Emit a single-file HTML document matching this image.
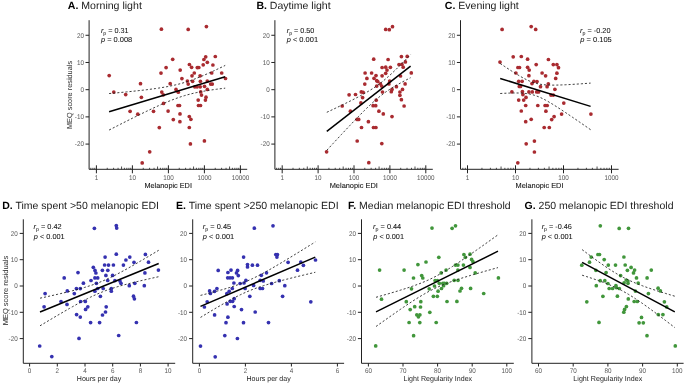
<!DOCTYPE html><html><head><meta charset="utf-8"><style>html,body{margin:0;padding:0;background:#fff;overflow:hidden}svg{display:block;will-change:transform;text-rendering:geometricPrecision}</style></head><body>
<svg width="685" height="383" viewBox="0 0 685 383" font-family='"Liberation Sans", sans-serif'>
<rect width="685" height="383" fill="#fff"/>
<path d="M89.10 20.20V169.30H247.20" fill="none" stroke="#222" stroke-width="1.0"/>
<line x1="85.50" y1="35.28" x2="89.10" y2="35.28" stroke="#222" stroke-width="1.0"/>
<text x="83.90" y="37.68" text-anchor="end" font-size="6.8" fill="#5a5a5a" textLength="7.01" lengthAdjust="spacingAndGlyphs">20</text>
<line x1="85.50" y1="62.48" x2="89.10" y2="62.48" stroke="#222" stroke-width="1.0"/>
<text x="83.90" y="64.88" text-anchor="end" font-size="6.8" fill="#5a5a5a" textLength="7.01" lengthAdjust="spacingAndGlyphs">10</text>
<line x1="85.50" y1="89.68" x2="89.10" y2="89.68" stroke="#222" stroke-width="1.0"/>
<text x="83.90" y="92.08" text-anchor="end" font-size="6.8" fill="#5a5a5a" textLength="3.50" lengthAdjust="spacingAndGlyphs">0</text>
<line x1="85.50" y1="116.88" x2="89.10" y2="116.88" stroke="#222" stroke-width="1.0"/>
<text x="83.90" y="119.28" text-anchor="end" font-size="6.8" fill="#5a5a5a" textLength="9.10" lengthAdjust="spacingAndGlyphs">-10</text>
<line x1="85.50" y1="144.08" x2="89.10" y2="144.08" stroke="#222" stroke-width="1.0"/>
<text x="83.90" y="146.48" text-anchor="end" font-size="6.8" fill="#5a5a5a" textLength="9.10" lengthAdjust="spacingAndGlyphs">-20</text>
<line x1="90.82" y1="167.80" x2="90.82" y2="169.30" stroke="#222" stroke-width="0.8"/>
<line x1="92.91" y1="167.80" x2="92.91" y2="169.30" stroke="#222" stroke-width="0.8"/>
<line x1="94.75" y1="167.80" x2="94.75" y2="169.30" stroke="#222" stroke-width="0.8"/>
<line x1="96.40" y1="165.30" x2="96.40" y2="173.30" stroke="#222" stroke-width="1.0"/>
<line x1="107.24" y1="167.80" x2="107.24" y2="169.30" stroke="#222" stroke-width="0.8"/>
<line x1="113.58" y1="167.80" x2="113.58" y2="169.30" stroke="#222" stroke-width="0.8"/>
<line x1="118.07" y1="167.80" x2="118.07" y2="169.30" stroke="#222" stroke-width="0.8"/>
<line x1="121.56" y1="166.50" x2="121.56" y2="169.30" stroke="#222" stroke-width="0.8"/>
<line x1="124.41" y1="167.80" x2="124.41" y2="169.30" stroke="#222" stroke-width="0.8"/>
<line x1="126.82" y1="167.80" x2="126.82" y2="169.30" stroke="#222" stroke-width="0.8"/>
<line x1="128.91" y1="167.80" x2="128.91" y2="169.30" stroke="#222" stroke-width="0.8"/>
<line x1="130.75" y1="167.80" x2="130.75" y2="169.30" stroke="#222" stroke-width="0.8"/>
<line x1="132.40" y1="165.30" x2="132.40" y2="173.30" stroke="#222" stroke-width="1.0"/>
<line x1="143.24" y1="167.80" x2="143.24" y2="169.30" stroke="#222" stroke-width="0.8"/>
<line x1="149.58" y1="167.80" x2="149.58" y2="169.30" stroke="#222" stroke-width="0.8"/>
<line x1="154.07" y1="167.80" x2="154.07" y2="169.30" stroke="#222" stroke-width="0.8"/>
<line x1="157.56" y1="166.50" x2="157.56" y2="169.30" stroke="#222" stroke-width="0.8"/>
<line x1="160.41" y1="167.80" x2="160.41" y2="169.30" stroke="#222" stroke-width="0.8"/>
<line x1="162.82" y1="167.80" x2="162.82" y2="169.30" stroke="#222" stroke-width="0.8"/>
<line x1="164.91" y1="167.80" x2="164.91" y2="169.30" stroke="#222" stroke-width="0.8"/>
<line x1="166.75" y1="167.80" x2="166.75" y2="169.30" stroke="#222" stroke-width="0.8"/>
<line x1="168.40" y1="165.30" x2="168.40" y2="173.30" stroke="#222" stroke-width="1.0"/>
<line x1="179.24" y1="167.80" x2="179.24" y2="169.30" stroke="#222" stroke-width="0.8"/>
<line x1="185.58" y1="167.80" x2="185.58" y2="169.30" stroke="#222" stroke-width="0.8"/>
<line x1="190.07" y1="167.80" x2="190.07" y2="169.30" stroke="#222" stroke-width="0.8"/>
<line x1="193.56" y1="166.50" x2="193.56" y2="169.30" stroke="#222" stroke-width="0.8"/>
<line x1="196.41" y1="167.80" x2="196.41" y2="169.30" stroke="#222" stroke-width="0.8"/>
<line x1="198.82" y1="167.80" x2="198.82" y2="169.30" stroke="#222" stroke-width="0.8"/>
<line x1="200.91" y1="167.80" x2="200.91" y2="169.30" stroke="#222" stroke-width="0.8"/>
<line x1="202.75" y1="167.80" x2="202.75" y2="169.30" stroke="#222" stroke-width="0.8"/>
<line x1="204.40" y1="165.30" x2="204.40" y2="173.30" stroke="#222" stroke-width="1.0"/>
<line x1="215.24" y1="167.80" x2="215.24" y2="169.30" stroke="#222" stroke-width="0.8"/>
<line x1="221.58" y1="167.80" x2="221.58" y2="169.30" stroke="#222" stroke-width="0.8"/>
<line x1="226.07" y1="167.80" x2="226.07" y2="169.30" stroke="#222" stroke-width="0.8"/>
<line x1="229.56" y1="166.50" x2="229.56" y2="169.30" stroke="#222" stroke-width="0.8"/>
<line x1="232.41" y1="167.80" x2="232.41" y2="169.30" stroke="#222" stroke-width="0.8"/>
<line x1="234.82" y1="167.80" x2="234.82" y2="169.30" stroke="#222" stroke-width="0.8"/>
<line x1="236.91" y1="167.80" x2="236.91" y2="169.30" stroke="#222" stroke-width="0.8"/>
<line x1="238.75" y1="167.80" x2="238.75" y2="169.30" stroke="#222" stroke-width="0.8"/>
<line x1="240.40" y1="165.30" x2="240.40" y2="173.30" stroke="#222" stroke-width="1.0"/>
<text x="96.40" y="179.60" text-anchor="middle" font-size="6.8" fill="#5a5a5a" textLength="3.50" lengthAdjust="spacingAndGlyphs">1</text>
<text x="132.40" y="179.60" text-anchor="middle" font-size="6.8" fill="#5a5a5a" textLength="7.01" lengthAdjust="spacingAndGlyphs">10</text>
<text x="168.40" y="179.60" text-anchor="middle" font-size="6.8" fill="#5a5a5a" textLength="10.51" lengthAdjust="spacingAndGlyphs">100</text>
<text x="204.40" y="179.60" text-anchor="middle" font-size="6.8" fill="#5a5a5a" textLength="14.01" lengthAdjust="spacingAndGlyphs">1000</text>
<text x="240.40" y="179.60" text-anchor="middle" font-size="6.8" fill="#5a5a5a" textLength="17.51" lengthAdjust="spacingAndGlyphs">10000</text>
<path d="M274.90 20.20V169.30H432.80" fill="none" stroke="#222" stroke-width="1.0"/>
<line x1="271.30" y1="35.28" x2="274.90" y2="35.28" stroke="#222" stroke-width="1.0"/>
<text x="269.70" y="37.68" text-anchor="end" font-size="6.8" fill="#5a5a5a" textLength="7.01" lengthAdjust="spacingAndGlyphs">20</text>
<line x1="271.30" y1="62.48" x2="274.90" y2="62.48" stroke="#222" stroke-width="1.0"/>
<text x="269.70" y="64.88" text-anchor="end" font-size="6.8" fill="#5a5a5a" textLength="7.01" lengthAdjust="spacingAndGlyphs">10</text>
<line x1="271.30" y1="89.68" x2="274.90" y2="89.68" stroke="#222" stroke-width="1.0"/>
<text x="269.70" y="92.08" text-anchor="end" font-size="6.8" fill="#5a5a5a" textLength="3.50" lengthAdjust="spacingAndGlyphs">0</text>
<line x1="271.30" y1="116.88" x2="274.90" y2="116.88" stroke="#222" stroke-width="1.0"/>
<text x="269.70" y="119.28" text-anchor="end" font-size="6.8" fill="#5a5a5a" textLength="9.10" lengthAdjust="spacingAndGlyphs">-10</text>
<line x1="271.30" y1="144.08" x2="274.90" y2="144.08" stroke="#222" stroke-width="1.0"/>
<text x="269.70" y="146.48" text-anchor="end" font-size="6.8" fill="#5a5a5a" textLength="9.10" lengthAdjust="spacingAndGlyphs">-20</text>
<line x1="276.64" y1="167.80" x2="276.64" y2="169.30" stroke="#222" stroke-width="0.8"/>
<line x1="278.72" y1="167.80" x2="278.72" y2="169.30" stroke="#222" stroke-width="0.8"/>
<line x1="280.56" y1="167.80" x2="280.56" y2="169.30" stroke="#222" stroke-width="0.8"/>
<line x1="282.20" y1="165.30" x2="282.20" y2="173.30" stroke="#222" stroke-width="1.0"/>
<line x1="293.01" y1="167.80" x2="293.01" y2="169.30" stroke="#222" stroke-width="0.8"/>
<line x1="299.33" y1="167.80" x2="299.33" y2="169.30" stroke="#222" stroke-width="0.8"/>
<line x1="303.81" y1="167.80" x2="303.81" y2="169.30" stroke="#222" stroke-width="0.8"/>
<line x1="307.29" y1="166.50" x2="307.29" y2="169.30" stroke="#222" stroke-width="0.8"/>
<line x1="310.14" y1="167.80" x2="310.14" y2="169.30" stroke="#222" stroke-width="0.8"/>
<line x1="312.54" y1="167.80" x2="312.54" y2="169.30" stroke="#222" stroke-width="0.8"/>
<line x1="314.62" y1="167.80" x2="314.62" y2="169.30" stroke="#222" stroke-width="0.8"/>
<line x1="316.46" y1="167.80" x2="316.46" y2="169.30" stroke="#222" stroke-width="0.8"/>
<line x1="318.10" y1="165.30" x2="318.10" y2="173.30" stroke="#222" stroke-width="1.0"/>
<line x1="328.91" y1="167.80" x2="328.91" y2="169.30" stroke="#222" stroke-width="0.8"/>
<line x1="335.23" y1="167.80" x2="335.23" y2="169.30" stroke="#222" stroke-width="0.8"/>
<line x1="339.71" y1="167.80" x2="339.71" y2="169.30" stroke="#222" stroke-width="0.8"/>
<line x1="343.19" y1="166.50" x2="343.19" y2="169.30" stroke="#222" stroke-width="0.8"/>
<line x1="346.04" y1="167.80" x2="346.04" y2="169.30" stroke="#222" stroke-width="0.8"/>
<line x1="348.44" y1="167.80" x2="348.44" y2="169.30" stroke="#222" stroke-width="0.8"/>
<line x1="350.52" y1="167.80" x2="350.52" y2="169.30" stroke="#222" stroke-width="0.8"/>
<line x1="352.36" y1="167.80" x2="352.36" y2="169.30" stroke="#222" stroke-width="0.8"/>
<line x1="354.00" y1="165.30" x2="354.00" y2="173.30" stroke="#222" stroke-width="1.0"/>
<line x1="364.81" y1="167.80" x2="364.81" y2="169.30" stroke="#222" stroke-width="0.8"/>
<line x1="371.13" y1="167.80" x2="371.13" y2="169.30" stroke="#222" stroke-width="0.8"/>
<line x1="375.61" y1="167.80" x2="375.61" y2="169.30" stroke="#222" stroke-width="0.8"/>
<line x1="379.09" y1="166.50" x2="379.09" y2="169.30" stroke="#222" stroke-width="0.8"/>
<line x1="381.94" y1="167.80" x2="381.94" y2="169.30" stroke="#222" stroke-width="0.8"/>
<line x1="384.34" y1="167.80" x2="384.34" y2="169.30" stroke="#222" stroke-width="0.8"/>
<line x1="386.42" y1="167.80" x2="386.42" y2="169.30" stroke="#222" stroke-width="0.8"/>
<line x1="388.26" y1="167.80" x2="388.26" y2="169.30" stroke="#222" stroke-width="0.8"/>
<line x1="389.90" y1="165.30" x2="389.90" y2="173.30" stroke="#222" stroke-width="1.0"/>
<line x1="400.71" y1="167.80" x2="400.71" y2="169.30" stroke="#222" stroke-width="0.8"/>
<line x1="407.03" y1="167.80" x2="407.03" y2="169.30" stroke="#222" stroke-width="0.8"/>
<line x1="411.51" y1="167.80" x2="411.51" y2="169.30" stroke="#222" stroke-width="0.8"/>
<line x1="414.99" y1="166.50" x2="414.99" y2="169.30" stroke="#222" stroke-width="0.8"/>
<line x1="417.84" y1="167.80" x2="417.84" y2="169.30" stroke="#222" stroke-width="0.8"/>
<line x1="420.24" y1="167.80" x2="420.24" y2="169.30" stroke="#222" stroke-width="0.8"/>
<line x1="422.32" y1="167.80" x2="422.32" y2="169.30" stroke="#222" stroke-width="0.8"/>
<line x1="424.16" y1="167.80" x2="424.16" y2="169.30" stroke="#222" stroke-width="0.8"/>
<line x1="425.80" y1="165.30" x2="425.80" y2="173.30" stroke="#222" stroke-width="1.0"/>
<text x="282.20" y="179.60" text-anchor="middle" font-size="6.8" fill="#5a5a5a" textLength="3.50" lengthAdjust="spacingAndGlyphs">1</text>
<text x="318.10" y="179.60" text-anchor="middle" font-size="6.8" fill="#5a5a5a" textLength="7.01" lengthAdjust="spacingAndGlyphs">10</text>
<text x="354.00" y="179.60" text-anchor="middle" font-size="6.8" fill="#5a5a5a" textLength="10.51" lengthAdjust="spacingAndGlyphs">100</text>
<text x="389.90" y="179.60" text-anchor="middle" font-size="6.8" fill="#5a5a5a" textLength="14.01" lengthAdjust="spacingAndGlyphs">1000</text>
<text x="425.80" y="179.60" text-anchor="middle" font-size="6.8" fill="#5a5a5a" textLength="17.51" lengthAdjust="spacingAndGlyphs">10000</text>
<path d="M460.50 20.20V169.30H618.60" fill="none" stroke="#222" stroke-width="1.0"/>
<line x1="456.90" y1="35.28" x2="460.50" y2="35.28" stroke="#222" stroke-width="1.0"/>
<text x="455.30" y="37.68" text-anchor="end" font-size="6.8" fill="#5a5a5a" textLength="7.01" lengthAdjust="spacingAndGlyphs">20</text>
<line x1="456.90" y1="62.48" x2="460.50" y2="62.48" stroke="#222" stroke-width="1.0"/>
<text x="455.30" y="64.88" text-anchor="end" font-size="6.8" fill="#5a5a5a" textLength="7.01" lengthAdjust="spacingAndGlyphs">10</text>
<line x1="456.90" y1="89.68" x2="460.50" y2="89.68" stroke="#222" stroke-width="1.0"/>
<text x="455.30" y="92.08" text-anchor="end" font-size="6.8" fill="#5a5a5a" textLength="3.50" lengthAdjust="spacingAndGlyphs">0</text>
<line x1="456.90" y1="116.88" x2="460.50" y2="116.88" stroke="#222" stroke-width="1.0"/>
<text x="455.30" y="119.28" text-anchor="end" font-size="6.8" fill="#5a5a5a" textLength="9.10" lengthAdjust="spacingAndGlyphs">-10</text>
<line x1="456.90" y1="144.08" x2="460.50" y2="144.08" stroke="#222" stroke-width="1.0"/>
<text x="455.30" y="146.48" text-anchor="end" font-size="6.8" fill="#5a5a5a" textLength="9.10" lengthAdjust="spacingAndGlyphs">-20</text>
<line x1="462.85" y1="167.80" x2="462.85" y2="169.30" stroke="#222" stroke-width="0.8"/>
<line x1="465.30" y1="167.80" x2="465.30" y2="169.30" stroke="#222" stroke-width="0.8"/>
<line x1="467.50" y1="165.30" x2="467.50" y2="173.30" stroke="#222" stroke-width="1.0"/>
<line x1="481.95" y1="167.80" x2="481.95" y2="169.30" stroke="#222" stroke-width="0.8"/>
<line x1="490.40" y1="167.80" x2="490.40" y2="169.30" stroke="#222" stroke-width="0.8"/>
<line x1="496.40" y1="167.80" x2="496.40" y2="169.30" stroke="#222" stroke-width="0.8"/>
<line x1="501.05" y1="166.50" x2="501.05" y2="169.30" stroke="#222" stroke-width="0.8"/>
<line x1="504.85" y1="167.80" x2="504.85" y2="169.30" stroke="#222" stroke-width="0.8"/>
<line x1="508.06" y1="167.80" x2="508.06" y2="169.30" stroke="#222" stroke-width="0.8"/>
<line x1="510.85" y1="167.80" x2="510.85" y2="169.30" stroke="#222" stroke-width="0.8"/>
<line x1="513.30" y1="167.80" x2="513.30" y2="169.30" stroke="#222" stroke-width="0.8"/>
<line x1="515.50" y1="165.30" x2="515.50" y2="173.30" stroke="#222" stroke-width="1.0"/>
<line x1="529.95" y1="167.80" x2="529.95" y2="169.30" stroke="#222" stroke-width="0.8"/>
<line x1="538.40" y1="167.80" x2="538.40" y2="169.30" stroke="#222" stroke-width="0.8"/>
<line x1="544.40" y1="167.80" x2="544.40" y2="169.30" stroke="#222" stroke-width="0.8"/>
<line x1="549.05" y1="166.50" x2="549.05" y2="169.30" stroke="#222" stroke-width="0.8"/>
<line x1="552.85" y1="167.80" x2="552.85" y2="169.30" stroke="#222" stroke-width="0.8"/>
<line x1="556.06" y1="167.80" x2="556.06" y2="169.30" stroke="#222" stroke-width="0.8"/>
<line x1="558.85" y1="167.80" x2="558.85" y2="169.30" stroke="#222" stroke-width="0.8"/>
<line x1="561.30" y1="167.80" x2="561.30" y2="169.30" stroke="#222" stroke-width="0.8"/>
<line x1="563.50" y1="165.30" x2="563.50" y2="173.30" stroke="#222" stroke-width="1.0"/>
<line x1="577.95" y1="167.80" x2="577.95" y2="169.30" stroke="#222" stroke-width="0.8"/>
<line x1="586.40" y1="167.80" x2="586.40" y2="169.30" stroke="#222" stroke-width="0.8"/>
<line x1="592.40" y1="167.80" x2="592.40" y2="169.30" stroke="#222" stroke-width="0.8"/>
<line x1="597.05" y1="166.50" x2="597.05" y2="169.30" stroke="#222" stroke-width="0.8"/>
<line x1="600.85" y1="167.80" x2="600.85" y2="169.30" stroke="#222" stroke-width="0.8"/>
<line x1="604.06" y1="167.80" x2="604.06" y2="169.30" stroke="#222" stroke-width="0.8"/>
<line x1="606.85" y1="167.80" x2="606.85" y2="169.30" stroke="#222" stroke-width="0.8"/>
<line x1="609.30" y1="167.80" x2="609.30" y2="169.30" stroke="#222" stroke-width="0.8"/>
<line x1="611.50" y1="165.30" x2="611.50" y2="173.30" stroke="#222" stroke-width="1.0"/>
<text x="467.50" y="179.60" text-anchor="middle" font-size="6.8" fill="#5a5a5a" textLength="3.50" lengthAdjust="spacingAndGlyphs">1</text>
<text x="515.50" y="179.60" text-anchor="middle" font-size="6.8" fill="#5a5a5a" textLength="7.01" lengthAdjust="spacingAndGlyphs">10</text>
<text x="563.50" y="179.60" text-anchor="middle" font-size="6.8" fill="#5a5a5a" textLength="10.51" lengthAdjust="spacingAndGlyphs">100</text>
<text x="611.50" y="179.60" text-anchor="middle" font-size="6.8" fill="#5a5a5a" textLength="14.01" lengthAdjust="spacingAndGlyphs">1000</text>
<path d="M23.30 219.30V363.30H175.20" fill="none" stroke="#222" stroke-width="1.0"/>
<line x1="19.70" y1="233.40" x2="23.30" y2="233.40" stroke="#222" stroke-width="1.0"/>
<text x="17.70" y="235.80" text-anchor="end" font-size="6.8" fill="#5a5a5a" textLength="7.01" lengthAdjust="spacingAndGlyphs">20</text>
<line x1="19.70" y1="259.70" x2="23.30" y2="259.70" stroke="#222" stroke-width="1.0"/>
<text x="17.70" y="262.10" text-anchor="end" font-size="6.8" fill="#5a5a5a" textLength="7.01" lengthAdjust="spacingAndGlyphs">10</text>
<line x1="19.70" y1="286.00" x2="23.30" y2="286.00" stroke="#222" stroke-width="1.0"/>
<text x="17.70" y="288.40" text-anchor="end" font-size="6.8" fill="#5a5a5a" textLength="3.50" lengthAdjust="spacingAndGlyphs">0</text>
<line x1="19.70" y1="312.30" x2="23.30" y2="312.30" stroke="#222" stroke-width="1.0"/>
<text x="17.70" y="314.70" text-anchor="end" font-size="6.8" fill="#5a5a5a" textLength="9.10" lengthAdjust="spacingAndGlyphs">-10</text>
<line x1="19.70" y1="338.60" x2="23.30" y2="338.60" stroke="#222" stroke-width="1.0"/>
<text x="17.70" y="341.00" text-anchor="end" font-size="6.8" fill="#5a5a5a" textLength="9.10" lengthAdjust="spacingAndGlyphs">-20</text>
<line x1="29.60" y1="363.30" x2="29.60" y2="366.50" stroke="#222" stroke-width="1.0"/>
<text x="29.60" y="372.90" text-anchor="middle" font-size="6.8" fill="#5a5a5a" textLength="3.50" lengthAdjust="spacingAndGlyphs">0</text>
<line x1="57.30" y1="363.30" x2="57.30" y2="366.50" stroke="#222" stroke-width="1.0"/>
<text x="57.30" y="372.90" text-anchor="middle" font-size="6.8" fill="#5a5a5a" textLength="3.50" lengthAdjust="spacingAndGlyphs">2</text>
<line x1="85.00" y1="363.30" x2="85.00" y2="366.50" stroke="#222" stroke-width="1.0"/>
<text x="85.00" y="372.90" text-anchor="middle" font-size="6.8" fill="#5a5a5a" textLength="3.50" lengthAdjust="spacingAndGlyphs">4</text>
<line x1="112.70" y1="363.30" x2="112.70" y2="366.50" stroke="#222" stroke-width="1.0"/>
<text x="112.70" y="372.90" text-anchor="middle" font-size="6.8" fill="#5a5a5a" textLength="3.50" lengthAdjust="spacingAndGlyphs">6</text>
<line x1="140.40" y1="363.30" x2="140.40" y2="366.50" stroke="#222" stroke-width="1.0"/>
<text x="140.40" y="372.90" text-anchor="middle" font-size="6.8" fill="#5a5a5a" textLength="3.50" lengthAdjust="spacingAndGlyphs">8</text>
<line x1="168.10" y1="363.30" x2="168.10" y2="366.50" stroke="#222" stroke-width="1.0"/>
<text x="168.10" y="372.90" text-anchor="middle" font-size="6.8" fill="#5a5a5a" textLength="7.01" lengthAdjust="spacingAndGlyphs">10</text>
<path d="M192.70 219.30V363.30H344.10" fill="none" stroke="#222" stroke-width="1.0"/>
<line x1="189.10" y1="233.40" x2="192.70" y2="233.40" stroke="#222" stroke-width="1.0"/>
<text x="187.10" y="235.80" text-anchor="end" font-size="6.8" fill="#5a5a5a" textLength="7.01" lengthAdjust="spacingAndGlyphs">20</text>
<line x1="189.10" y1="259.70" x2="192.70" y2="259.70" stroke="#222" stroke-width="1.0"/>
<text x="187.10" y="262.10" text-anchor="end" font-size="6.8" fill="#5a5a5a" textLength="7.01" lengthAdjust="spacingAndGlyphs">10</text>
<line x1="189.10" y1="286.00" x2="192.70" y2="286.00" stroke="#222" stroke-width="1.0"/>
<text x="187.10" y="288.40" text-anchor="end" font-size="6.8" fill="#5a5a5a" textLength="3.50" lengthAdjust="spacingAndGlyphs">0</text>
<line x1="189.10" y1="312.30" x2="192.70" y2="312.30" stroke="#222" stroke-width="1.0"/>
<text x="187.10" y="314.70" text-anchor="end" font-size="6.8" fill="#5a5a5a" textLength="9.10" lengthAdjust="spacingAndGlyphs">-10</text>
<line x1="189.10" y1="338.60" x2="192.70" y2="338.60" stroke="#222" stroke-width="1.0"/>
<text x="187.10" y="341.00" text-anchor="end" font-size="6.8" fill="#5a5a5a" textLength="9.10" lengthAdjust="spacingAndGlyphs">-20</text>
<line x1="199.40" y1="363.30" x2="199.40" y2="366.50" stroke="#222" stroke-width="1.0"/>
<text x="199.40" y="372.90" text-anchor="middle" font-size="6.8" fill="#5a5a5a" textLength="3.50" lengthAdjust="spacingAndGlyphs">0</text>
<line x1="245.40" y1="363.30" x2="245.40" y2="366.50" stroke="#222" stroke-width="1.0"/>
<text x="245.40" y="372.90" text-anchor="middle" font-size="6.8" fill="#5a5a5a" textLength="3.50" lengthAdjust="spacingAndGlyphs">2</text>
<line x1="291.40" y1="363.30" x2="291.40" y2="366.50" stroke="#222" stroke-width="1.0"/>
<text x="291.40" y="372.90" text-anchor="middle" font-size="6.8" fill="#5a5a5a" textLength="3.50" lengthAdjust="spacingAndGlyphs">4</text>
<line x1="337.40" y1="363.30" x2="337.40" y2="366.50" stroke="#222" stroke-width="1.0"/>
<text x="337.40" y="372.90" text-anchor="middle" font-size="6.8" fill="#5a5a5a" textLength="3.50" lengthAdjust="spacingAndGlyphs">6</text>
<path d="M361.50 219.30V363.30H513.80" fill="none" stroke="#222" stroke-width="1.0"/>
<line x1="357.90" y1="233.40" x2="361.50" y2="233.40" stroke="#222" stroke-width="1.0"/>
<text x="355.90" y="235.80" text-anchor="end" font-size="6.8" fill="#5a5a5a" textLength="7.01" lengthAdjust="spacingAndGlyphs">20</text>
<line x1="357.90" y1="259.70" x2="361.50" y2="259.70" stroke="#222" stroke-width="1.0"/>
<text x="355.90" y="262.10" text-anchor="end" font-size="6.8" fill="#5a5a5a" textLength="7.01" lengthAdjust="spacingAndGlyphs">10</text>
<line x1="357.90" y1="286.00" x2="361.50" y2="286.00" stroke="#222" stroke-width="1.0"/>
<text x="355.90" y="288.40" text-anchor="end" font-size="6.8" fill="#5a5a5a" textLength="3.50" lengthAdjust="spacingAndGlyphs">0</text>
<line x1="357.90" y1="312.30" x2="361.50" y2="312.30" stroke="#222" stroke-width="1.0"/>
<text x="355.90" y="314.70" text-anchor="end" font-size="6.8" fill="#5a5a5a" textLength="9.10" lengthAdjust="spacingAndGlyphs">-10</text>
<line x1="357.90" y1="338.60" x2="361.50" y2="338.60" stroke="#222" stroke-width="1.0"/>
<text x="355.90" y="341.00" text-anchor="end" font-size="6.8" fill="#5a5a5a" textLength="9.10" lengthAdjust="spacingAndGlyphs">-20</text>
<line x1="368.40" y1="363.30" x2="368.40" y2="366.50" stroke="#222" stroke-width="1.0"/>
<text x="368.40" y="372.90" text-anchor="middle" font-size="6.8" fill="#5a5a5a" textLength="7.01" lengthAdjust="spacingAndGlyphs">60</text>
<line x1="403.00" y1="363.30" x2="403.00" y2="366.50" stroke="#222" stroke-width="1.0"/>
<text x="403.00" y="372.90" text-anchor="middle" font-size="6.8" fill="#5a5a5a" textLength="7.01" lengthAdjust="spacingAndGlyphs">70</text>
<line x1="437.60" y1="363.30" x2="437.60" y2="366.50" stroke="#222" stroke-width="1.0"/>
<text x="437.60" y="372.90" text-anchor="middle" font-size="6.8" fill="#5a5a5a" textLength="7.01" lengthAdjust="spacingAndGlyphs">80</text>
<line x1="472.20" y1="363.30" x2="472.20" y2="366.50" stroke="#222" stroke-width="1.0"/>
<text x="472.20" y="372.90" text-anchor="middle" font-size="6.8" fill="#5a5a5a" textLength="7.01" lengthAdjust="spacingAndGlyphs">90</text>
<line x1="506.80" y1="363.30" x2="506.80" y2="366.50" stroke="#222" stroke-width="1.0"/>
<text x="506.80" y="372.90" text-anchor="middle" font-size="6.8" fill="#5a5a5a" textLength="10.51" lengthAdjust="spacingAndGlyphs">100</text>
<path d="M531.90 219.30V363.30H683.60" fill="none" stroke="#222" stroke-width="1.0"/>
<line x1="528.30" y1="233.40" x2="531.90" y2="233.40" stroke="#222" stroke-width="1.0"/>
<text x="526.30" y="235.80" text-anchor="end" font-size="6.8" fill="#5a5a5a" textLength="7.01" lengthAdjust="spacingAndGlyphs">20</text>
<line x1="528.30" y1="259.70" x2="531.90" y2="259.70" stroke="#222" stroke-width="1.0"/>
<text x="526.30" y="262.10" text-anchor="end" font-size="6.8" fill="#5a5a5a" textLength="7.01" lengthAdjust="spacingAndGlyphs">10</text>
<line x1="528.30" y1="286.00" x2="531.90" y2="286.00" stroke="#222" stroke-width="1.0"/>
<text x="526.30" y="288.40" text-anchor="end" font-size="6.8" fill="#5a5a5a" textLength="3.50" lengthAdjust="spacingAndGlyphs">0</text>
<line x1="528.30" y1="312.30" x2="531.90" y2="312.30" stroke="#222" stroke-width="1.0"/>
<text x="526.30" y="314.70" text-anchor="end" font-size="6.8" fill="#5a5a5a" textLength="9.10" lengthAdjust="spacingAndGlyphs">-10</text>
<line x1="528.30" y1="338.60" x2="531.90" y2="338.60" stroke="#222" stroke-width="1.0"/>
<text x="526.30" y="341.00" text-anchor="end" font-size="6.8" fill="#5a5a5a" textLength="9.10" lengthAdjust="spacingAndGlyphs">-20</text>
<line x1="538.50" y1="363.30" x2="538.50" y2="366.50" stroke="#222" stroke-width="1.0"/>
<text x="538.50" y="372.90" text-anchor="middle" font-size="6.8" fill="#5a5a5a" textLength="7.01" lengthAdjust="spacingAndGlyphs">60</text>
<line x1="573.20" y1="363.30" x2="573.20" y2="366.50" stroke="#222" stroke-width="1.0"/>
<text x="573.20" y="372.90" text-anchor="middle" font-size="6.8" fill="#5a5a5a" textLength="7.01" lengthAdjust="spacingAndGlyphs">70</text>
<line x1="607.90" y1="363.30" x2="607.90" y2="366.50" stroke="#222" stroke-width="1.0"/>
<text x="607.90" y="372.90" text-anchor="middle" font-size="6.8" fill="#5a5a5a" textLength="7.01" lengthAdjust="spacingAndGlyphs">80</text>
<line x1="642.60" y1="363.30" x2="642.60" y2="366.50" stroke="#222" stroke-width="1.0"/>
<text x="642.60" y="372.90" text-anchor="middle" font-size="6.8" fill="#5a5a5a" textLength="7.01" lengthAdjust="spacingAndGlyphs">90</text>
<line x1="677.30" y1="363.30" x2="677.30" y2="366.50" stroke="#222" stroke-width="1.0"/>
<text x="677.30" y="372.90" text-anchor="middle" font-size="6.8" fill="#5a5a5a" textLength="10.51" lengthAdjust="spacingAndGlyphs">100</text>
<text x="67.78" y="9.10" font-size="10.4" fill="#111" textLength="74.04" lengthAdjust="spacingAndGlyphs"><tspan font-weight="bold" fill="#000">A.</tspan><tspan fill="#1a1a1a"> Morning light</tspan></text>
<text x="256.42" y="9.10" font-size="10.4" fill="#111" textLength="74.19" lengthAdjust="spacingAndGlyphs"><tspan font-weight="bold" fill="#000">B.</tspan><tspan fill="#1a1a1a"> Daytime light</tspan></text>
<text x="444.79" y="9.10" font-size="10.4" fill="#111" textLength="73.95" lengthAdjust="spacingAndGlyphs"><tspan font-weight="bold" fill="#000">C.</tspan><tspan fill="#1a1a1a"> Evening light</tspan></text>
<text x="2.19" y="208.90" font-size="10.4" fill="#111" textLength="156.83" lengthAdjust="spacingAndGlyphs"><tspan font-weight="bold" fill="#000">D.</tspan><tspan fill="#1a1a1a"> Time spent &gt;50 melanopic EDI</tspan></text>
<text x="175.99" y="208.90" font-size="10.4" fill="#111" textLength="162.64" lengthAdjust="spacingAndGlyphs"><tspan font-weight="bold" fill="#000">E.</tspan><tspan fill="#1a1a1a"> Time spent &gt;250 melanopic EDI</tspan></text>
<text x="347.99" y="208.90" font-size="10.4" fill="#111" textLength="162.61" lengthAdjust="spacingAndGlyphs"><tspan font-weight="bold" fill="#000">F.</tspan><tspan fill="#1a1a1a"> Median melanopic EDI threshold</tspan></text>
<text x="524.59" y="208.90" font-size="10.4" fill="#111" textLength="148.90" lengthAdjust="spacingAndGlyphs"><tspan font-weight="bold" fill="#000">G.</tspan><tspan fill="#1a1a1a"> 250 melanopic EDI threshold</tspan></text>
<text x="100.93" y="33.00" font-size="7.3" fill="#111" stroke="#111" stroke-width="0.05" textLength="27.71" lengthAdjust="spacingAndGlyphs"><tspan font-style="italic">r</tspan><tspan font-size="5.26" dy="1.5">p</tspan><tspan dy="-1.5"> = 0.31</tspan></text>
<text x="100.97" y="41.80" font-size="7.3" fill="#111" stroke="#111" stroke-width="0.05" textLength="31.31" lengthAdjust="spacingAndGlyphs"><tspan font-style="italic">p</tspan> = 0.008</text>
<text x="286.76" y="33.00" font-size="7.3" fill="#111" stroke="#111" stroke-width="0.05" textLength="27.54" lengthAdjust="spacingAndGlyphs"><tspan font-style="italic">r</tspan><tspan font-size="5.26" dy="1.5">p</tspan><tspan dy="-1.5"> = 0.50</tspan></text>
<text x="286.69" y="41.80" font-size="7.3" fill="#111" stroke="#111" stroke-width="0.05" textLength="31.35" lengthAdjust="spacingAndGlyphs"><tspan font-style="italic">p</tspan> &lt; 0.001</text>
<text x="580.09" y="33.00" font-size="7.3" fill="#111" stroke="#111" stroke-width="0.05" textLength="30.39" lengthAdjust="spacingAndGlyphs"><tspan font-style="italic">r</tspan><tspan font-size="5.26" dy="1.5">p</tspan><tspan dy="-1.5"> = -0.20</tspan></text>
<text x="580.30" y="41.80" font-size="7.3" fill="#111" stroke="#111" stroke-width="0.05" textLength="31.48" lengthAdjust="spacingAndGlyphs"><tspan font-style="italic">p</tspan> = 0.105</text>
<text x="33.45" y="229.20" font-size="7.3" fill="#111" stroke="#111" stroke-width="0.05" textLength="28.26" lengthAdjust="spacingAndGlyphs"><tspan font-style="italic">r</tspan><tspan font-size="5.26" dy="1.5">p</tspan><tspan dy="-1.5"> = 0.42</tspan></text>
<text x="33.75" y="238.50" font-size="7.3" fill="#111" stroke="#111" stroke-width="0.05" textLength="30.98" lengthAdjust="spacingAndGlyphs"><tspan font-style="italic">p</tspan> &lt; 0.001</text>
<text x="202.84" y="229.20" font-size="7.3" fill="#111" stroke="#111" stroke-width="0.05" textLength="28.31" lengthAdjust="spacingAndGlyphs"><tspan font-style="italic">r</tspan><tspan font-size="5.26" dy="1.5">p</tspan><tspan dy="-1.5"> = 0.45</tspan></text>
<text x="202.89" y="238.50" font-size="7.3" fill="#111" stroke="#111" stroke-width="0.05" textLength="31.35" lengthAdjust="spacingAndGlyphs"><tspan font-style="italic">p</tspan> &lt; 0.001</text>
<text x="373.11" y="229.20" font-size="7.3" fill="#111" stroke="#111" stroke-width="0.05" textLength="28.13" lengthAdjust="spacingAndGlyphs"><tspan font-style="italic">r</tspan><tspan font-size="5.26" dy="1.5">p</tspan><tspan dy="-1.5"> = 0.44</tspan></text>
<text x="373.29" y="238.50" font-size="7.3" fill="#111" stroke="#111" stroke-width="0.05" textLength="30.70" lengthAdjust="spacingAndGlyphs"><tspan font-style="italic">p</tspan> &lt; 0.001</text>
<text x="541.65" y="229.20" font-size="7.3" fill="#111" stroke="#111" stroke-width="0.05" textLength="30.22" lengthAdjust="spacingAndGlyphs"><tspan font-style="italic">r</tspan><tspan font-size="5.26" dy="1.5">p</tspan><tspan dy="-1.5"> = -0.46</tspan></text>
<text x="541.69" y="238.50" font-size="7.3" fill="#111" stroke="#111" stroke-width="0.05" textLength="31.04" lengthAdjust="spacingAndGlyphs"><tspan font-style="italic">p</tspan> &lt; 0.001</text>
<text x="144.47" y="187.60" font-size="7.3" fill="#111" stroke="#111" stroke-width="0.08" textLength="47.45" lengthAdjust="spacingAndGlyphs">Melanopic EDI</text>
<text x="329.70" y="187.60" font-size="7.3" fill="#111" stroke="#111" stroke-width="0.08" textLength="48.19" lengthAdjust="spacingAndGlyphs">Melanopic EDI</text>
<text x="515.56" y="187.60" font-size="7.3" fill="#111" stroke="#111" stroke-width="0.08" textLength="47.95" lengthAdjust="spacingAndGlyphs">Melanopic EDI</text>
<text x="76.80" y="380.90" font-size="7.3" fill="#1e1e1e" textLength="44.42" lengthAdjust="spacingAndGlyphs">Hours per day</text>
<text x="246.52" y="380.90" font-size="7.3" fill="#1e1e1e" textLength="44.22" lengthAdjust="spacingAndGlyphs">Hours per day</text>
<text x="403.62" y="380.90" font-size="7.3" fill="#1e1e1e" textLength="68.51" lengthAdjust="spacingAndGlyphs">Light Regularity Index</text>
<text x="573.34" y="380.90" font-size="7.3" fill="#1e1e1e" textLength="69.00" lengthAdjust="spacingAndGlyphs">Light Regularity Index</text>
<text transform="translate(72.40 129.00) rotate(-90)" font-size="7.3" fill="#333" stroke="#333" stroke-width="0.03" textLength="68.07" lengthAdjust="spacingAndGlyphs">MEQ score residuals</text>
<text transform="translate(8.40 325.30) rotate(-90)" font-size="7.3" fill="#333" stroke="#333" stroke-width="0.03" textLength="69.58" lengthAdjust="spacingAndGlyphs">MEQ score residuals</text>
<circle cx="161.4" cy="29.2" r="1.85" fill="#a92b30"/>
<circle cx="172.7" cy="59.3" r="1.85" fill="#a92b30"/>
<circle cx="166.1" cy="67.6" r="1.85" fill="#a92b30"/>
<circle cx="161.0" cy="73.1" r="1.85" fill="#a92b30"/>
<circle cx="109.2" cy="75.6" r="1.85" fill="#a92b30"/>
<circle cx="140.5" cy="83.7" r="1.85" fill="#a92b30"/>
<circle cx="170.2" cy="83.7" r="1.85" fill="#a92b30"/>
<circle cx="113.8" cy="92.1" r="1.85" fill="#a92b30"/>
<circle cx="125.7" cy="94.6" r="1.85" fill="#a92b30"/>
<circle cx="141.4" cy="97.3" r="1.85" fill="#a92b30"/>
<circle cx="161.8" cy="92.1" r="1.85" fill="#a92b30"/>
<circle cx="163.3" cy="94.8" r="1.85" fill="#a92b30"/>
<circle cx="163.5" cy="103.4" r="1.85" fill="#a92b30"/>
<circle cx="130.1" cy="111.3" r="1.85" fill="#a92b30"/>
<circle cx="137.8" cy="114.2" r="1.85" fill="#a92b30"/>
<circle cx="153.5" cy="111.3" r="1.85" fill="#a92b30"/>
<circle cx="168.1" cy="111.1" r="1.85" fill="#a92b30"/>
<circle cx="173.3" cy="119.6" r="1.85" fill="#a92b30"/>
<circle cx="159.3" cy="127.6" r="1.85" fill="#a92b30"/>
<circle cx="149.7" cy="151.8" r="1.85" fill="#a92b30"/>
<circle cx="142.2" cy="162.9" r="1.85" fill="#a92b30"/>
<circle cx="188.2" cy="29.4" r="1.85" fill="#a92b30"/>
<circle cx="206.4" cy="26.6" r="1.85" fill="#a92b30"/>
<circle cx="205.7" cy="56.8" r="1.85" fill="#a92b30"/>
<circle cx="203.9" cy="59.5" r="1.85" fill="#a92b30"/>
<circle cx="215.3" cy="56.5" r="1.85" fill="#a92b30"/>
<circle cx="207.3" cy="62.3" r="1.85" fill="#a92b30"/>
<circle cx="189.4" cy="64.5" r="1.85" fill="#a92b30"/>
<circle cx="191.6" cy="67.3" r="1.85" fill="#a92b30"/>
<circle cx="197.3" cy="67.6" r="1.85" fill="#a92b30"/>
<circle cx="198.8" cy="67.5" r="1.85" fill="#a92b30"/>
<circle cx="203.2" cy="64.8" r="1.85" fill="#a92b30"/>
<circle cx="212.9" cy="65.0" r="1.85" fill="#a92b30"/>
<circle cx="180.2" cy="70.1" r="1.85" fill="#a92b30"/>
<circle cx="194.3" cy="73.0" r="1.85" fill="#a92b30"/>
<circle cx="211.7" cy="73.0" r="1.85" fill="#a92b30"/>
<circle cx="221.7" cy="73.0" r="1.85" fill="#a92b30"/>
<circle cx="192.0" cy="75.8" r="1.85" fill="#a92b30"/>
<circle cx="200.1" cy="75.8" r="1.85" fill="#a92b30"/>
<circle cx="181.9" cy="78.6" r="1.85" fill="#a92b30"/>
<circle cx="187.4" cy="81.0" r="1.85" fill="#a92b30"/>
<circle cx="192.6" cy="81.3" r="1.85" fill="#a92b30"/>
<circle cx="188.2" cy="84.1" r="1.85" fill="#a92b30"/>
<circle cx="200.4" cy="81.3" r="1.85" fill="#a92b30"/>
<circle cx="207.3" cy="81.0" r="1.85" fill="#a92b30"/>
<circle cx="210.7" cy="84.1" r="1.85" fill="#a92b30"/>
<circle cx="212.3" cy="84.1" r="1.85" fill="#a92b30"/>
<circle cx="176.0" cy="89.4" r="1.85" fill="#a92b30"/>
<circle cx="178.3" cy="92.2" r="1.85" fill="#a92b30"/>
<circle cx="194.8" cy="86.8" r="1.85" fill="#a92b30"/>
<circle cx="197.1" cy="86.8" r="1.85" fill="#a92b30"/>
<circle cx="200.2" cy="86.8" r="1.85" fill="#a92b30"/>
<circle cx="204.5" cy="86.3" r="1.85" fill="#a92b30"/>
<circle cx="207.3" cy="89.4" r="1.85" fill="#a92b30"/>
<circle cx="200.7" cy="91.9" r="1.85" fill="#a92b30"/>
<circle cx="201.5" cy="95.1" r="1.85" fill="#a92b30"/>
<circle cx="206.0" cy="97.2" r="1.85" fill="#a92b30"/>
<circle cx="205.4" cy="100.1" r="1.85" fill="#a92b30"/>
<circle cx="198.2" cy="100.1" r="1.85" fill="#a92b30"/>
<circle cx="178.0" cy="105.5" r="1.85" fill="#a92b30"/>
<circle cx="179.5" cy="105.5" r="1.85" fill="#a92b30"/>
<circle cx="198.5" cy="105.5" r="1.85" fill="#a92b30"/>
<circle cx="200.5" cy="105.5" r="1.85" fill="#a92b30"/>
<circle cx="180.0" cy="113.9" r="1.85" fill="#a92b30"/>
<circle cx="189.3" cy="116.5" r="1.85" fill="#a92b30"/>
<circle cx="190.9" cy="119.3" r="1.85" fill="#a92b30"/>
<circle cx="179.9" cy="121.7" r="1.85" fill="#a92b30"/>
<circle cx="189.3" cy="127.5" r="1.85" fill="#a92b30"/>
<circle cx="225.5" cy="78.5" r="1.85" fill="#a92b30"/>
<circle cx="204.4" cy="140.9" r="1.85" fill="#a92b30"/>
<circle cx="190.4" cy="143.9" r="1.85" fill="#a92b30"/>
<circle cx="385.7" cy="29.4" r="1.85" fill="#a92b30"/>
<circle cx="389.3" cy="29.7" r="1.85" fill="#a92b30"/>
<circle cx="392.5" cy="26.7" r="1.85" fill="#a92b30"/>
<circle cx="373.7" cy="59.2" r="1.85" fill="#a92b30"/>
<circle cx="388.1" cy="59.5" r="1.85" fill="#a92b30"/>
<circle cx="401.4" cy="56.6" r="1.85" fill="#a92b30"/>
<circle cx="407.2" cy="56.4" r="1.85" fill="#a92b30"/>
<circle cx="382.1" cy="67.5" r="1.85" fill="#a92b30"/>
<circle cx="385.7" cy="67.2" r="1.85" fill="#a92b30"/>
<circle cx="390.4" cy="67.3" r="1.85" fill="#a92b30"/>
<circle cx="387.0" cy="70.1" r="1.85" fill="#a92b30"/>
<circle cx="399.0" cy="64.6" r="1.85" fill="#a92b30"/>
<circle cx="401.9" cy="64.3" r="1.85" fill="#a92b30"/>
<circle cx="405.4" cy="61.9" r="1.85" fill="#a92b30"/>
<circle cx="403.2" cy="67.2" r="1.85" fill="#a92b30"/>
<circle cx="365.1" cy="73.0" r="1.85" fill="#a92b30"/>
<circle cx="371.6" cy="73.0" r="1.85" fill="#a92b30"/>
<circle cx="376.0" cy="75.6" r="1.85" fill="#a92b30"/>
<circle cx="385.7" cy="73.3" r="1.85" fill="#a92b30"/>
<circle cx="382.1" cy="75.8" r="1.85" fill="#a92b30"/>
<circle cx="366.9" cy="78.4" r="1.85" fill="#a92b30"/>
<circle cx="374.0" cy="78.3" r="1.85" fill="#a92b30"/>
<circle cx="400.5" cy="76.0" r="1.85" fill="#a92b30"/>
<circle cx="411.3" cy="72.9" r="1.85" fill="#a92b30"/>
<circle cx="389.7" cy="81.0" r="1.85" fill="#a92b30"/>
<circle cx="388.9" cy="83.9" r="1.85" fill="#a92b30"/>
<circle cx="396.4" cy="86.7" r="1.85" fill="#a92b30"/>
<circle cx="405.1" cy="83.9" r="1.85" fill="#a92b30"/>
<circle cx="402.5" cy="89.4" r="1.85" fill="#a92b30"/>
<circle cx="392.0" cy="89.4" r="1.85" fill="#a92b30"/>
<circle cx="391.3" cy="91.7" r="1.85" fill="#a92b30"/>
<circle cx="399.9" cy="92.0" r="1.85" fill="#a92b30"/>
<circle cx="399.9" cy="95.3" r="1.85" fill="#a92b30"/>
<circle cx="401.4" cy="99.7" r="1.85" fill="#a92b30"/>
<circle cx="404.1" cy="106.0" r="1.85" fill="#a92b30"/>
<circle cx="392.0" cy="116.6" r="1.85" fill="#a92b30"/>
<circle cx="376.7" cy="80.7" r="1.85" fill="#a92b30"/>
<circle cx="377.8" cy="81.5" r="1.85" fill="#a92b30"/>
<circle cx="364.8" cy="84.1" r="1.85" fill="#a92b30"/>
<circle cx="380.4" cy="83.8" r="1.85" fill="#a92b30"/>
<circle cx="376.7" cy="86.1" r="1.85" fill="#a92b30"/>
<circle cx="381.7" cy="86.1" r="1.85" fill="#a92b30"/>
<circle cx="382.5" cy="92.0" r="1.85" fill="#a92b30"/>
<circle cx="349.1" cy="94.8" r="1.85" fill="#a92b30"/>
<circle cx="355.5" cy="94.5" r="1.85" fill="#a92b30"/>
<circle cx="361.3" cy="91.9" r="1.85" fill="#a92b30"/>
<circle cx="363.2" cy="92.4" r="1.85" fill="#a92b30"/>
<circle cx="362.6" cy="97.6" r="1.85" fill="#a92b30"/>
<circle cx="360.9" cy="102.9" r="1.85" fill="#a92b30"/>
<circle cx="376.2" cy="100.2" r="1.85" fill="#a92b30"/>
<circle cx="373.1" cy="105.7" r="1.85" fill="#a92b30"/>
<circle cx="375.7" cy="105.7" r="1.85" fill="#a92b30"/>
<circle cx="342.2" cy="106.0" r="1.85" fill="#a92b30"/>
<circle cx="350.4" cy="111.2" r="1.85" fill="#a92b30"/>
<circle cx="378.9" cy="111.2" r="1.85" fill="#a92b30"/>
<circle cx="383.3" cy="113.9" r="1.85" fill="#a92b30"/>
<circle cx="357.1" cy="119.4" r="1.85" fill="#a92b30"/>
<circle cx="358.7" cy="119.4" r="1.85" fill="#a92b30"/>
<circle cx="368.4" cy="121.7" r="1.85" fill="#a92b30"/>
<circle cx="361.5" cy="127.5" r="1.85" fill="#a92b30"/>
<circle cx="373.5" cy="127.5" r="1.85" fill="#a92b30"/>
<circle cx="375.9" cy="127.5" r="1.85" fill="#a92b30"/>
<circle cx="357.2" cy="141.0" r="1.85" fill="#a92b30"/>
<circle cx="381.8" cy="143.6" r="1.85" fill="#a92b30"/>
<circle cx="326.6" cy="151.8" r="1.85" fill="#a92b30"/>
<circle cx="368.8" cy="162.7" r="1.85" fill="#a92b30"/>
<circle cx="502.1" cy="29.4" r="1.85" fill="#a92b30"/>
<circle cx="531.2" cy="26.6" r="1.85" fill="#a92b30"/>
<circle cx="535.7" cy="29.4" r="1.85" fill="#a92b30"/>
<circle cx="513.2" cy="56.8" r="1.85" fill="#a92b30"/>
<circle cx="521.3" cy="56.5" r="1.85" fill="#a92b30"/>
<circle cx="527.6" cy="59.2" r="1.85" fill="#a92b30"/>
<circle cx="548.4" cy="59.5" r="1.85" fill="#a92b30"/>
<circle cx="500.0" cy="62.1" r="1.85" fill="#a92b30"/>
<circle cx="536.2" cy="64.6" r="1.85" fill="#a92b30"/>
<circle cx="517.9" cy="67.5" r="1.85" fill="#a92b30"/>
<circle cx="519.5" cy="67.5" r="1.85" fill="#a92b30"/>
<circle cx="527.6" cy="67.3" r="1.85" fill="#a92b30"/>
<circle cx="529.2" cy="70.1" r="1.85" fill="#a92b30"/>
<circle cx="515.9" cy="73.0" r="1.85" fill="#a92b30"/>
<circle cx="528.9" cy="75.7" r="1.85" fill="#a92b30"/>
<circle cx="542.1" cy="73.0" r="1.85" fill="#a92b30"/>
<circle cx="545.6" cy="75.8" r="1.85" fill="#a92b30"/>
<circle cx="553.3" cy="64.6" r="1.85" fill="#a92b30"/>
<circle cx="556.9" cy="64.6" r="1.85" fill="#a92b30"/>
<circle cx="558.5" cy="67.7" r="1.85" fill="#a92b30"/>
<circle cx="556.9" cy="73.2" r="1.85" fill="#a92b30"/>
<circle cx="555.7" cy="78.4" r="1.85" fill="#a92b30"/>
<circle cx="548.3" cy="83.8" r="1.85" fill="#a92b30"/>
<circle cx="547.1" cy="86.7" r="1.85" fill="#a92b30"/>
<circle cx="540.5" cy="86.7" r="1.85" fill="#a92b30"/>
<circle cx="554.9" cy="89.3" r="1.85" fill="#a92b30"/>
<circle cx="551.0" cy="95.1" r="1.85" fill="#a92b30"/>
<circle cx="553.3" cy="95.1" r="1.85" fill="#a92b30"/>
<circle cx="518.7" cy="81.3" r="1.85" fill="#a92b30"/>
<circle cx="522.1" cy="81.3" r="1.85" fill="#a92b30"/>
<circle cx="532.0" cy="83.6" r="1.85" fill="#a92b30"/>
<circle cx="533.9" cy="81.3" r="1.85" fill="#a92b30"/>
<circle cx="537.0" cy="81.6" r="1.85" fill="#a92b30"/>
<circle cx="519.3" cy="86.4" r="1.85" fill="#a92b30"/>
<circle cx="520.5" cy="86.4" r="1.85" fill="#a92b30"/>
<circle cx="511.9" cy="91.8" r="1.85" fill="#a92b30"/>
<circle cx="522.4" cy="91.5" r="1.85" fill="#a92b30"/>
<circle cx="528.9" cy="91.9" r="1.85" fill="#a92b30"/>
<circle cx="532.3" cy="91.9" r="1.85" fill="#a92b30"/>
<circle cx="536.7" cy="91.9" r="1.85" fill="#a92b30"/>
<circle cx="538.6" cy="91.9" r="1.85" fill="#a92b30"/>
<circle cx="522.9" cy="94.6" r="1.85" fill="#a92b30"/>
<circle cx="526.0" cy="97.4" r="1.85" fill="#a92b30"/>
<circle cx="518.7" cy="100.1" r="1.85" fill="#a92b30"/>
<circle cx="523.7" cy="100.1" r="1.85" fill="#a92b30"/>
<circle cx="525.7" cy="105.5" r="1.85" fill="#a92b30"/>
<circle cx="537.8" cy="105.5" r="1.85" fill="#a92b30"/>
<circle cx="545.1" cy="105.5" r="1.85" fill="#a92b30"/>
<circle cx="547.2" cy="105.5" r="1.85" fill="#a92b30"/>
<circle cx="521.3" cy="111.0" r="1.85" fill="#a92b30"/>
<circle cx="545.9" cy="111.2" r="1.85" fill="#a92b30"/>
<circle cx="525.7" cy="121.7" r="1.85" fill="#a92b30"/>
<circle cx="531.2" cy="119.3" r="1.85" fill="#a92b30"/>
<circle cx="544.2" cy="127.5" r="1.85" fill="#a92b30"/>
<circle cx="549.3" cy="127.5" r="1.85" fill="#a92b30"/>
<circle cx="563.8" cy="103.1" r="1.85" fill="#a92b30"/>
<circle cx="590.9" cy="114.1" r="1.85" fill="#a92b30"/>
<circle cx="561.6" cy="114.1" r="1.85" fill="#a92b30"/>
<circle cx="554.1" cy="116.6" r="1.85" fill="#a92b30"/>
<circle cx="551.7" cy="119.6" r="1.85" fill="#a92b30"/>
<circle cx="526.2" cy="143.8" r="1.85" fill="#a92b30"/>
<circle cx="534.4" cy="141.1" r="1.85" fill="#a92b30"/>
<circle cx="534.4" cy="152.0" r="1.85" fill="#a92b30"/>
<circle cx="517.8" cy="162.8" r="1.85" fill="#a92b30"/>
<circle cx="94.4" cy="228.3" r="1.85" fill="#3531b0"/>
<circle cx="116.3" cy="225.5" r="1.85" fill="#3531b0"/>
<circle cx="116.7" cy="228.1" r="1.85" fill="#3531b0"/>
<circle cx="116.3" cy="254.2" r="1.85" fill="#3531b0"/>
<circle cx="105.1" cy="257.1" r="1.85" fill="#3531b0"/>
<circle cx="125.9" cy="260.0" r="1.85" fill="#3531b0"/>
<circle cx="129.8" cy="257.1" r="1.85" fill="#3531b0"/>
<circle cx="134.0" cy="262.3" r="1.85" fill="#3531b0"/>
<circle cx="104.6" cy="265.0" r="1.85" fill="#3531b0"/>
<circle cx="108.5" cy="265.1" r="1.85" fill="#3531b0"/>
<circle cx="113.4" cy="265.0" r="1.85" fill="#3531b0"/>
<circle cx="123.4" cy="265.1" r="1.85" fill="#3531b0"/>
<circle cx="93.3" cy="267.3" r="1.85" fill="#3531b0"/>
<circle cx="95.0" cy="270.4" r="1.85" fill="#3531b0"/>
<circle cx="95.9" cy="273.0" r="1.85" fill="#3531b0"/>
<circle cx="102.4" cy="270.3" r="1.85" fill="#3531b0"/>
<circle cx="107.8" cy="270.3" r="1.85" fill="#3531b0"/>
<circle cx="105.9" cy="275.4" r="1.85" fill="#3531b0"/>
<circle cx="112.6" cy="275.4" r="1.85" fill="#3531b0"/>
<circle cx="94.9" cy="277.9" r="1.85" fill="#3531b0"/>
<circle cx="97.7" cy="277.9" r="1.85" fill="#3531b0"/>
<circle cx="91.0" cy="280.5" r="1.85" fill="#3531b0"/>
<circle cx="107.7" cy="280.5" r="1.85" fill="#3531b0"/>
<circle cx="114.9" cy="280.6" r="1.85" fill="#3531b0"/>
<circle cx="78.0" cy="272.6" r="1.85" fill="#3531b0"/>
<circle cx="64.2" cy="277.9" r="1.85" fill="#3531b0"/>
<circle cx="83.4" cy="283.2" r="1.85" fill="#3531b0"/>
<circle cx="45.1" cy="293.6" r="1.85" fill="#3531b0"/>
<circle cx="67.3" cy="290.9" r="1.85" fill="#3531b0"/>
<circle cx="76.4" cy="288.6" r="1.85" fill="#3531b0"/>
<circle cx="80.3" cy="288.6" r="1.85" fill="#3531b0"/>
<circle cx="74.3" cy="293.6" r="1.85" fill="#3531b0"/>
<circle cx="96.4" cy="283.3" r="1.85" fill="#3531b0"/>
<circle cx="120.0" cy="281.0" r="1.85" fill="#3531b0"/>
<circle cx="121.0" cy="283.3" r="1.85" fill="#3531b0"/>
<circle cx="97.7" cy="288.5" r="1.85" fill="#3531b0"/>
<circle cx="103.2" cy="288.5" r="1.85" fill="#3531b0"/>
<circle cx="111.3" cy="288.5" r="1.85" fill="#3531b0"/>
<circle cx="111.3" cy="291.2" r="1.85" fill="#3531b0"/>
<circle cx="94.9" cy="291.2" r="1.85" fill="#3531b0"/>
<circle cx="129.3" cy="285.7" r="1.85" fill="#3531b0"/>
<circle cx="134.8" cy="283.3" r="1.85" fill="#3531b0"/>
<circle cx="100.4" cy="296.3" r="1.85" fill="#3531b0"/>
<circle cx="133.5" cy="296.2" r="1.85" fill="#3531b0"/>
<circle cx="134.4" cy="298.8" r="1.85" fill="#3531b0"/>
<circle cx="80.6" cy="301.5" r="1.85" fill="#3531b0"/>
<circle cx="85.3" cy="301.4" r="1.85" fill="#3531b0"/>
<circle cx="87.8" cy="306.8" r="1.85" fill="#3531b0"/>
<circle cx="85.6" cy="309.4" r="1.85" fill="#3531b0"/>
<circle cx="106.2" cy="306.8" r="1.85" fill="#3531b0"/>
<circle cx="105.5" cy="312.0" r="1.85" fill="#3531b0"/>
<circle cx="102.5" cy="315.0" r="1.85" fill="#3531b0"/>
<circle cx="80.3" cy="317.1" r="1.85" fill="#3531b0"/>
<circle cx="76.6" cy="314.6" r="1.85" fill="#3531b0"/>
<circle cx="90.6" cy="322.6" r="1.85" fill="#3531b0"/>
<circle cx="99.6" cy="322.6" r="1.85" fill="#3531b0"/>
<circle cx="136.4" cy="322.5" r="1.85" fill="#3531b0"/>
<circle cx="145.4" cy="254.4" r="1.85" fill="#3531b0"/>
<circle cx="148.5" cy="262.2" r="1.85" fill="#3531b0"/>
<circle cx="144.9" cy="272.9" r="1.85" fill="#3531b0"/>
<circle cx="158.4" cy="270.1" r="1.85" fill="#3531b0"/>
<circle cx="144.3" cy="285.7" r="1.85" fill="#3531b0"/>
<circle cx="44.1" cy="306.8" r="1.85" fill="#3531b0"/>
<circle cx="61.0" cy="301.6" r="1.85" fill="#3531b0"/>
<circle cx="67.0" cy="304.4" r="1.85" fill="#3531b0"/>
<circle cx="79.0" cy="338.4" r="1.85" fill="#3531b0"/>
<circle cx="39.7" cy="346.0" r="1.85" fill="#3531b0"/>
<circle cx="51.8" cy="356.6" r="1.85" fill="#3531b0"/>
<circle cx="118.7" cy="335.5" r="1.85" fill="#3531b0"/>
<circle cx="254.3" cy="228.2" r="1.85" fill="#3531b0"/>
<circle cx="273.0" cy="225.8" r="1.85" fill="#3531b0"/>
<circle cx="243.6" cy="257.1" r="1.85" fill="#3531b0"/>
<circle cx="247.5" cy="264.6" r="1.85" fill="#3531b0"/>
<circle cx="247.5" cy="267.0" r="1.85" fill="#3531b0"/>
<circle cx="252.4" cy="265.2" r="1.85" fill="#3531b0"/>
<circle cx="218.2" cy="270.4" r="1.85" fill="#3531b0"/>
<circle cx="231.0" cy="270.1" r="1.85" fill="#3531b0"/>
<circle cx="227.9" cy="272.5" r="1.85" fill="#3531b0"/>
<circle cx="237.6" cy="270.4" r="1.85" fill="#3531b0"/>
<circle cx="236.5" cy="272.9" r="1.85" fill="#3531b0"/>
<circle cx="238.3" cy="275.6" r="1.85" fill="#3531b0"/>
<circle cx="227.7" cy="277.8" r="1.85" fill="#3531b0"/>
<circle cx="230.0" cy="277.8" r="1.85" fill="#3531b0"/>
<circle cx="232.4" cy="277.8" r="1.85" fill="#3531b0"/>
<circle cx="275.8" cy="254.5" r="1.85" fill="#3531b0"/>
<circle cx="277.4" cy="254.5" r="1.85" fill="#3531b0"/>
<circle cx="276.9" cy="257.1" r="1.85" fill="#3531b0"/>
<circle cx="257.5" cy="265.2" r="1.85" fill="#3531b0"/>
<circle cx="288.1" cy="262.3" r="1.85" fill="#3531b0"/>
<circle cx="300.8" cy="262.0" r="1.85" fill="#3531b0"/>
<circle cx="303.4" cy="265.3" r="1.85" fill="#3531b0"/>
<circle cx="297.5" cy="270.2" r="1.85" fill="#3531b0"/>
<circle cx="266.5" cy="272.8" r="1.85" fill="#3531b0"/>
<circle cx="261.3" cy="275.3" r="1.85" fill="#3531b0"/>
<circle cx="315.5" cy="260.0" r="1.85" fill="#3531b0"/>
<circle cx="233.9" cy="283.0" r="1.85" fill="#3531b0"/>
<circle cx="240.1" cy="283.5" r="1.85" fill="#3531b0"/>
<circle cx="244.0" cy="283.0" r="1.85" fill="#3531b0"/>
<circle cx="245.9" cy="280.4" r="1.85" fill="#3531b0"/>
<circle cx="253.6" cy="285.5" r="1.85" fill="#3531b0"/>
<circle cx="216.9" cy="288.5" r="1.85" fill="#3531b0"/>
<circle cx="214.6" cy="291.3" r="1.85" fill="#3531b0"/>
<circle cx="209.6" cy="290.9" r="1.85" fill="#3531b0"/>
<circle cx="210.4" cy="293.5" r="1.85" fill="#3531b0"/>
<circle cx="229.2" cy="291.3" r="1.85" fill="#3531b0"/>
<circle cx="232.3" cy="288.5" r="1.85" fill="#3531b0"/>
<circle cx="226.8" cy="293.7" r="1.85" fill="#3531b0"/>
<circle cx="245.1" cy="288.5" r="1.85" fill="#3531b0"/>
<circle cx="249.8" cy="296.3" r="1.85" fill="#3531b0"/>
<circle cx="207.2" cy="301.8" r="1.85" fill="#3531b0"/>
<circle cx="234.2" cy="298.7" r="1.85" fill="#3531b0"/>
<circle cx="230.2" cy="301.3" r="1.85" fill="#3531b0"/>
<circle cx="232.6" cy="301.3" r="1.85" fill="#3531b0"/>
<circle cx="227.1" cy="303.9" r="1.85" fill="#3531b0"/>
<circle cx="204.4" cy="307.0" r="1.85" fill="#3531b0"/>
<circle cx="234.2" cy="306.5" r="1.85" fill="#3531b0"/>
<circle cx="241.5" cy="309.6" r="1.85" fill="#3531b0"/>
<circle cx="214.6" cy="314.9" r="1.85" fill="#3531b0"/>
<circle cx="227.9" cy="317.2" r="1.85" fill="#3531b0"/>
<circle cx="226.0" cy="322.7" r="1.85" fill="#3531b0"/>
<circle cx="243.5" cy="322.7" r="1.85" fill="#3531b0"/>
<circle cx="260.2" cy="280.3" r="1.85" fill="#3531b0"/>
<circle cx="263.3" cy="281.0" r="1.85" fill="#3531b0"/>
<circle cx="271.6" cy="283.5" r="1.85" fill="#3531b0"/>
<circle cx="279.3" cy="280.7" r="1.85" fill="#3531b0"/>
<circle cx="284.8" cy="285.7" r="1.85" fill="#3531b0"/>
<circle cx="260.2" cy="288.5" r="1.85" fill="#3531b0"/>
<circle cx="262.5" cy="288.5" r="1.85" fill="#3531b0"/>
<circle cx="282.6" cy="296.3" r="1.85" fill="#3531b0"/>
<circle cx="310.8" cy="301.8" r="1.85" fill="#3531b0"/>
<circle cx="255.2" cy="312.0" r="1.85" fill="#3531b0"/>
<circle cx="268.5" cy="322.6" r="1.85" fill="#3531b0"/>
<circle cx="224.8" cy="335.6" r="1.85" fill="#3531b0"/>
<circle cx="237.4" cy="338.5" r="1.85" fill="#3531b0"/>
<circle cx="200.5" cy="346.1" r="1.85" fill="#3531b0"/>
<circle cx="215.2" cy="356.8" r="1.85" fill="#3531b0"/>
<circle cx="432.0" cy="228.1" r="1.85" fill="#41963b"/>
<circle cx="452.1" cy="228.3" r="1.85" fill="#41963b"/>
<circle cx="455.5" cy="225.8" r="1.85" fill="#41963b"/>
<circle cx="379.6" cy="270.1" r="1.85" fill="#41963b"/>
<circle cx="404.1" cy="270.1" r="1.85" fill="#41963b"/>
<circle cx="417.9" cy="264.6" r="1.85" fill="#41963b"/>
<circle cx="426.0" cy="262.0" r="1.85" fill="#41963b"/>
<circle cx="413.5" cy="278.0" r="1.85" fill="#41963b"/>
<circle cx="421.7" cy="275.6" r="1.85" fill="#41963b"/>
<circle cx="422.8" cy="278.0" r="1.85" fill="#41963b"/>
<circle cx="438.8" cy="257.3" r="1.85" fill="#41963b"/>
<circle cx="463.9" cy="254.5" r="1.85" fill="#41963b"/>
<circle cx="465.4" cy="257.3" r="1.85" fill="#41963b"/>
<circle cx="470.0" cy="254.2" r="1.85" fill="#41963b"/>
<circle cx="471.6" cy="259.4" r="1.85" fill="#41963b"/>
<circle cx="472.9" cy="261.6" r="1.85" fill="#41963b"/>
<circle cx="455.5" cy="265.1" r="1.85" fill="#41963b"/>
<circle cx="457.9" cy="265.1" r="1.85" fill="#41963b"/>
<circle cx="463.4" cy="265.1" r="1.85" fill="#41963b"/>
<circle cx="470.0" cy="267.4" r="1.85" fill="#41963b"/>
<circle cx="446.1" cy="270.1" r="1.85" fill="#41963b"/>
<circle cx="441.2" cy="272.9" r="1.85" fill="#41963b"/>
<circle cx="457.9" cy="270.1" r="1.85" fill="#41963b"/>
<circle cx="475.2" cy="272.9" r="1.85" fill="#41963b"/>
<circle cx="435.1" cy="280.5" r="1.85" fill="#41963b"/>
<circle cx="437.4" cy="280.7" r="1.85" fill="#41963b"/>
<circle cx="454.2" cy="280.3" r="1.85" fill="#41963b"/>
<circle cx="458.0" cy="280.3" r="1.85" fill="#41963b"/>
<circle cx="498.4" cy="277.9" r="1.85" fill="#41963b"/>
<circle cx="470.6" cy="288.4" r="1.85" fill="#41963b"/>
<circle cx="483.7" cy="293.5" r="1.85" fill="#41963b"/>
<circle cx="439.3" cy="283.3" r="1.85" fill="#41963b"/>
<circle cx="442.8" cy="283.3" r="1.85" fill="#41963b"/>
<circle cx="444.3" cy="283.3" r="1.85" fill="#41963b"/>
<circle cx="446.7" cy="283.3" r="1.85" fill="#41963b"/>
<circle cx="443.6" cy="285.7" r="1.85" fill="#41963b"/>
<circle cx="411.5" cy="288.8" r="1.85" fill="#41963b"/>
<circle cx="429.2" cy="288.8" r="1.85" fill="#41963b"/>
<circle cx="434.5" cy="286.0" r="1.85" fill="#41963b"/>
<circle cx="438.1" cy="291.2" r="1.85" fill="#41963b"/>
<circle cx="441.5" cy="288.5" r="1.85" fill="#41963b"/>
<circle cx="433.4" cy="296.3" r="1.85" fill="#41963b"/>
<circle cx="437.3" cy="296.3" r="1.85" fill="#41963b"/>
<circle cx="406.3" cy="301.7" r="1.85" fill="#41963b"/>
<circle cx="420.8" cy="301.7" r="1.85" fill="#41963b"/>
<circle cx="447.0" cy="301.5" r="1.85" fill="#41963b"/>
<circle cx="414.7" cy="306.7" r="1.85" fill="#41963b"/>
<circle cx="420.5" cy="307.0" r="1.85" fill="#41963b"/>
<circle cx="410.2" cy="309.6" r="1.85" fill="#41963b"/>
<circle cx="429.8" cy="312.3" r="1.85" fill="#41963b"/>
<circle cx="416.8" cy="314.8" r="1.85" fill="#41963b"/>
<circle cx="419.9" cy="314.8" r="1.85" fill="#41963b"/>
<circle cx="418.4" cy="316.8" r="1.85" fill="#41963b"/>
<circle cx="409.1" cy="322.5" r="1.85" fill="#41963b"/>
<circle cx="419.8" cy="322.6" r="1.85" fill="#41963b"/>
<circle cx="436.2" cy="322.5" r="1.85" fill="#41963b"/>
<circle cx="413.6" cy="335.7" r="1.85" fill="#41963b"/>
<circle cx="375.7" cy="345.9" r="1.85" fill="#41963b"/>
<circle cx="381.5" cy="299.2" r="1.85" fill="#41963b"/>
<circle cx="461.5" cy="288.3" r="1.85" fill="#41963b"/>
<circle cx="460.0" cy="291.0" r="1.85" fill="#41963b"/>
<circle cx="456.9" cy="301.4" r="1.85" fill="#41963b"/>
<circle cx="600.3" cy="225.8" r="1.85" fill="#41963b"/>
<circle cx="619.2" cy="228.4" r="1.85" fill="#41963b"/>
<circle cx="628.5" cy="228.3" r="1.85" fill="#41963b"/>
<circle cx="597.9" cy="254.5" r="1.85" fill="#41963b"/>
<circle cx="599.5" cy="254.5" r="1.85" fill="#41963b"/>
<circle cx="591.2" cy="257.1" r="1.85" fill="#41963b"/>
<circle cx="604.2" cy="259.6" r="1.85" fill="#41963b"/>
<circle cx="623.9" cy="257.0" r="1.85" fill="#41963b"/>
<circle cx="589.5" cy="262.2" r="1.85" fill="#41963b"/>
<circle cx="581.8" cy="265.2" r="1.85" fill="#41963b"/>
<circle cx="608.3" cy="265.1" r="1.85" fill="#41963b"/>
<circle cx="615.5" cy="265.1" r="1.85" fill="#41963b"/>
<circle cx="625.2" cy="265.0" r="1.85" fill="#41963b"/>
<circle cx="595.9" cy="270.3" r="1.85" fill="#41963b"/>
<circle cx="606.1" cy="272.6" r="1.85" fill="#41963b"/>
<circle cx="620.6" cy="275.6" r="1.85" fill="#41963b"/>
<circle cx="600.2" cy="280.7" r="1.85" fill="#41963b"/>
<circle cx="604.8" cy="280.7" r="1.85" fill="#41963b"/>
<circle cx="631.1" cy="267.4" r="1.85" fill="#41963b"/>
<circle cx="634.6" cy="270.1" r="1.85" fill="#41963b"/>
<circle cx="633.5" cy="272.9" r="1.85" fill="#41963b"/>
<circle cx="627.4" cy="270.3" r="1.85" fill="#41963b"/>
<circle cx="651.3" cy="270.1" r="1.85" fill="#41963b"/>
<circle cx="636.5" cy="277.9" r="1.85" fill="#41963b"/>
<circle cx="647.1" cy="277.9" r="1.85" fill="#41963b"/>
<circle cx="626.2" cy="280.0" r="1.85" fill="#41963b"/>
<circle cx="627.9" cy="281.0" r="1.85" fill="#41963b"/>
<circle cx="624.1" cy="282.8" r="1.85" fill="#41963b"/>
<circle cx="628.0" cy="283.3" r="1.85" fill="#41963b"/>
<circle cx="638.2" cy="283.1" r="1.85" fill="#41963b"/>
<circle cx="615.9" cy="285.6" r="1.85" fill="#41963b"/>
<circle cx="616.3" cy="287.6" r="1.85" fill="#41963b"/>
<circle cx="619.3" cy="288.5" r="1.85" fill="#41963b"/>
<circle cx="658.1" cy="288.2" r="1.85" fill="#41963b"/>
<circle cx="660.4" cy="290.9" r="1.85" fill="#41963b"/>
<circle cx="635.4" cy="291.1" r="1.85" fill="#41963b"/>
<circle cx="648.4" cy="293.6" r="1.85" fill="#41963b"/>
<circle cx="617.4" cy="296.2" r="1.85" fill="#41963b"/>
<circle cx="628.3" cy="298.9" r="1.85" fill="#41963b"/>
<circle cx="607.9" cy="283.5" r="1.85" fill="#41963b"/>
<circle cx="596.3" cy="285.7" r="1.85" fill="#41963b"/>
<circle cx="609.2" cy="288.5" r="1.85" fill="#41963b"/>
<circle cx="612.6" cy="288.5" r="1.85" fill="#41963b"/>
<circle cx="602.9" cy="296.3" r="1.85" fill="#41963b"/>
<circle cx="586.8" cy="301.8" r="1.85" fill="#41963b"/>
<circle cx="626.4" cy="306.6" r="1.85" fill="#41963b"/>
<circle cx="624.6" cy="309.4" r="1.85" fill="#41963b"/>
<circle cx="623.8" cy="312.2" r="1.85" fill="#41963b"/>
<circle cx="599.0" cy="322.4" r="1.85" fill="#41963b"/>
<circle cx="634.2" cy="301.5" r="1.85" fill="#41963b"/>
<circle cx="637.3" cy="301.5" r="1.85" fill="#41963b"/>
<circle cx="664.4" cy="301.8" r="1.85" fill="#41963b"/>
<circle cx="666.7" cy="306.9" r="1.85" fill="#41963b"/>
<circle cx="658.3" cy="314.6" r="1.85" fill="#41963b"/>
<circle cx="662.9" cy="314.6" r="1.85" fill="#41963b"/>
<circle cx="641.5" cy="317.4" r="1.85" fill="#41963b"/>
<circle cx="639.1" cy="322.8" r="1.85" fill="#41963b"/>
<circle cx="643.3" cy="322.8" r="1.85" fill="#41963b"/>
<circle cx="647.0" cy="335.7" r="1.85" fill="#41963b"/>
<circle cx="675.3" cy="345.9" r="1.85" fill="#41963b"/>
<path d="M109.10 93.55 L112.00 93.29 L114.91 93.02 L117.81 92.75 L120.71 92.48 L123.61 92.20 L126.51 91.91 L129.42 91.62 L132.32 91.32 L135.22 91.01 L138.12 90.70 L141.03 90.37 L143.93 90.04 L146.83 89.69 L149.73 89.33 L152.64 88.94 L155.54 88.54 L158.44 88.12 L161.34 87.66 L164.25 87.18 L167.15 86.66 L170.05 86.09 L172.95 85.48 L175.86 84.82 L178.76 84.10 L181.66 83.31 L184.56 82.46 L187.47 81.55 L190.37 80.57 L193.27 79.53 L196.18 78.44 L199.08 77.29 L201.98 76.09 L204.88 74.86 L207.78 73.59 L210.69 72.28 L213.59 70.96 L216.49 69.60 L219.39 68.23 L222.30 66.84 L225.20 65.44" fill="none" stroke="#1a1a1a" stroke-width="0.85" stroke-dasharray="2.1 2"/>
<path d="M109.10 130.05 L112.00 128.56 L114.91 127.08 L117.81 125.60 L120.71 124.12 L123.61 122.65 L126.51 121.19 L129.42 119.73 L132.32 118.28 L135.22 116.84 L138.12 115.40 L141.03 113.98 L143.93 112.56 L146.83 111.16 L149.73 109.77 L152.64 108.41 L155.54 107.06 L158.44 105.73 L161.34 104.44 L164.25 103.17 L167.15 101.94 L170.05 100.76 L172.95 99.62 L175.86 98.53 L178.76 97.50 L181.66 96.54 L184.56 95.64 L187.47 94.80 L190.37 94.03 L193.27 93.32 L196.18 92.66 L199.08 92.06 L201.98 91.51 L204.88 90.99 L207.78 90.51 L210.69 90.07 L213.59 89.64 L216.49 89.25 L219.39 88.87 L222.30 88.51 L225.20 88.16" fill="none" stroke="#1a1a1a" stroke-width="0.85" stroke-dasharray="2.1 2"/>
<line x1="109.10" y1="111.80" x2="225.20" y2="76.80" stroke="#000" stroke-width="1.5"/>
<path d="M326.80 112.30 L328.90 111.32 L330.99 110.33 L333.09 109.34 L335.18 108.35 L337.28 107.35 L339.37 106.34 L341.47 105.34 L343.56 104.32 L345.66 103.30 L347.75 102.27 L349.85 101.23 L351.94 100.18 L354.04 99.11 L356.13 98.03 L358.23 96.94 L360.32 95.82 L362.42 94.68 L364.51 93.52 L366.61 92.32 L368.70 91.08 L370.80 89.80 L372.89 88.46 L374.99 87.07 L377.08 85.62 L379.18 84.10 L381.27 82.50 L383.37 80.83 L385.46 79.09 L387.56 77.28 L389.65 75.41 L391.75 73.48 L393.84 71.49 L395.94 69.47 L398.03 67.41 L400.12 65.31 L402.22 63.19 L404.32 61.04 L406.41 58.88 L408.50 56.70 L410.60 54.50" fill="none" stroke="#1a1a1a" stroke-width="0.85" stroke-dasharray="2.1 2"/>
<path d="M326.80 150.30 L328.90 148.02 L330.99 145.75 L333.09 143.48 L335.18 141.21 L337.28 138.95 L339.37 136.70 L341.47 134.44 L343.56 132.20 L345.66 129.96 L347.75 127.73 L349.85 125.51 L351.94 123.30 L354.04 121.11 L356.13 118.93 L358.23 116.76 L360.32 114.62 L362.42 112.50 L364.51 110.40 L366.61 108.34 L368.70 106.32 L370.80 104.34 L372.89 102.42 L374.99 100.55 L377.08 98.74 L379.18 97.00 L381.27 95.34 L383.37 93.75 L385.46 92.23 L387.56 90.78 L389.65 89.39 L391.75 88.06 L393.84 86.79 L395.94 85.55 L398.03 84.35 L400.12 83.19 L402.22 82.05 L404.32 80.94 L406.41 79.84 L408.50 78.76 L410.60 77.70" fill="none" stroke="#1a1a1a" stroke-width="0.85" stroke-dasharray="2.1 2"/>
<line x1="326.80" y1="131.30" x2="410.60" y2="66.10" stroke="#000" stroke-width="1.5"/>
<path d="M500.20 63.50 L502.46 65.02 L504.72 66.52 L506.98 68.01 L509.24 69.49 L511.50 70.94 L513.76 72.38 L516.02 73.78 L518.28 75.15 L520.54 76.48 L522.80 77.75 L525.06 78.95 L527.32 80.07 L529.58 81.09 L531.84 82.00 L534.10 82.78 L536.36 83.42 L538.62 83.95 L540.88 84.35 L543.14 84.65 L545.40 84.86 L547.66 85.00 L549.92 85.08 L552.18 85.12 L554.44 85.12 L556.70 85.09 L558.96 85.03 L561.22 84.95 L563.48 84.86 L565.74 84.76 L568.00 84.64 L570.26 84.51 L572.52 84.37 L574.78 84.23 L577.04 84.08 L579.30 83.93 L581.56 83.77 L583.82 83.61 L586.08 83.44 L588.34 83.27 L590.60 83.10" fill="none" stroke="#1a1a1a" stroke-width="0.85" stroke-dasharray="2.1 2"/>
<path d="M500.20 93.50 L502.46 93.38 L504.72 93.27 L506.98 93.17 L509.24 93.09 L511.50 93.03 L513.76 92.99 L516.02 92.98 L518.28 93.01 L520.54 93.08 L522.80 93.20 L525.06 93.40 L527.32 93.67 L529.58 94.04 L531.84 94.53 L534.10 95.15 L536.36 95.90 L538.62 96.77 L540.88 97.76 L543.14 98.86 L545.40 100.04 L547.66 101.29 L549.92 102.61 L552.18 103.97 L554.44 105.36 L556.70 106.79 L558.96 108.24 L561.22 109.71 L563.48 111.20 L565.74 112.70 L568.00 114.21 L570.26 115.73 L572.52 117.27 L574.78 118.80 L577.04 120.35 L579.30 121.90 L581.56 123.45 L583.82 125.01 L586.08 126.57 L588.34 128.13 L590.60 129.70" fill="none" stroke="#1a1a1a" stroke-width="0.85" stroke-dasharray="2.1 2"/>
<line x1="500.20" y1="78.50" x2="590.60" y2="106.40" stroke="#000" stroke-width="1.5"/>
<path d="M40.00 298.20 L42.97 297.56 L45.94 296.91 L48.90 296.25 L51.87 295.59 L54.84 294.92 L57.80 294.25 L60.77 293.56 L63.74 292.86 L66.71 292.15 L69.67 291.43 L72.64 290.68 L75.61 289.92 L78.58 289.13 L81.54 288.30 L84.51 287.44 L87.48 286.54 L90.45 285.59 L93.41 284.58 L96.38 283.51 L99.35 282.37 L102.32 281.16 L105.28 279.88 L108.25 278.53 L111.22 277.11 L114.19 275.64 L117.16 274.12 L120.12 272.56 L123.09 270.96 L126.06 269.33 L129.02 267.67 L131.99 265.99 L134.96 264.29 L137.93 262.58 L140.89 260.85 L143.86 259.11 L146.83 257.36 L149.80 255.61 L152.76 253.84 L155.73 252.07 L158.70 250.30" fill="none" stroke="#1a1a1a" stroke-width="0.85" stroke-dasharray="2.1 2"/>
<path d="M40.00 325.80 L42.97 324.02 L45.94 322.24 L48.90 320.47 L51.87 318.71 L54.84 316.95 L57.80 315.20 L60.77 313.46 L63.74 311.74 L66.71 310.02 L69.67 308.32 L72.64 306.64 L75.61 304.98 L78.58 303.35 L81.54 301.75 L84.51 300.18 L87.48 298.66 L90.45 297.19 L93.41 295.77 L96.38 294.42 L99.35 293.13 L102.32 291.92 L105.28 290.77 L108.25 289.70 L111.22 288.69 L114.19 287.73 L117.16 286.83 L120.12 285.97 L123.09 285.14 L126.06 284.35 L129.02 283.58 L131.99 282.83 L134.96 282.11 L137.93 281.40 L140.89 280.70 L143.86 280.01 L146.83 279.34 L149.80 278.67 L152.76 278.01 L155.73 277.35 L158.70 276.70" fill="none" stroke="#1a1a1a" stroke-width="0.85" stroke-dasharray="2.1 2"/>
<line x1="40.00" y1="312.00" x2="158.70" y2="263.50" stroke="#000" stroke-width="1.5"/>
<path d="M200.50 295.39 L203.37 294.68 L206.24 293.95 L209.11 293.22 L211.98 292.48 L214.85 291.72 L217.72 290.94 L220.59 290.15 L223.46 289.33 L226.33 288.49 L229.20 287.61 L232.07 286.70 L234.94 285.75 L237.81 284.74 L240.68 283.68 L243.55 282.56 L246.42 281.37 L249.29 280.11 L252.16 278.79 L255.03 277.41 L257.90 275.97 L260.77 274.47 L263.64 272.93 L266.51 271.35 L269.38 269.74 L272.25 268.10 L275.12 266.44 L277.99 264.75 L280.86 263.05 L283.73 261.34 L286.60 259.61 L289.47 257.87 L292.34 256.12 L295.21 254.36 L298.08 252.60 L300.95 250.83 L303.82 249.05 L306.69 247.28 L309.56 245.49 L312.43 243.71 L315.30 241.92" fill="none" stroke="#1a1a1a" stroke-width="0.85" stroke-dasharray="2.1 2"/>
<path d="M200.50 317.41 L203.37 315.66 L206.24 313.92 L209.11 312.18 L211.98 310.46 L214.85 308.76 L217.72 307.07 L220.59 305.40 L223.46 303.75 L226.33 302.13 L229.20 300.54 L232.07 298.98 L234.94 297.47 L237.81 296.02 L240.68 294.61 L243.55 293.27 L246.42 291.99 L249.29 290.78 L252.16 289.64 L255.03 288.56 L257.90 287.53 L260.77 286.56 L263.64 285.64 L266.51 284.75 L269.38 283.90 L272.25 283.07 L275.12 282.27 L277.99 281.49 L280.86 280.73 L283.73 279.98 L286.60 279.24 L289.47 278.52 L292.34 277.80 L295.21 277.09 L298.08 276.39 L300.95 275.70 L303.82 275.01 L306.69 274.32 L309.56 273.64 L312.43 272.96 L315.30 272.28" fill="none" stroke="#1a1a1a" stroke-width="0.85" stroke-dasharray="2.1 2"/>
<line x1="200.50" y1="306.40" x2="315.30" y2="257.10" stroke="#000" stroke-width="1.5"/>
<path d="M376.00 297.30 L379.05 296.44 L382.10 295.57 L385.15 294.70 L388.20 293.82 L391.25 292.93 L394.30 292.02 L397.35 291.11 L400.40 290.17 L403.45 289.22 L406.50 288.24 L409.55 287.24 L412.60 286.20 L415.65 285.12 L418.70 283.99 L421.75 282.81 L424.80 281.55 L427.85 280.22 L430.90 278.81 L433.95 277.30 L437.00 275.71 L440.05 274.03 L443.10 272.27 L446.15 270.44 L449.20 268.55 L452.25 266.61 L455.30 264.63 L458.35 262.61 L461.40 260.56 L464.45 258.48 L467.50 256.38 L470.55 254.27 L473.60 252.14 L476.65 250.00 L479.70 247.85 L482.75 245.69 L485.80 243.53 L488.85 241.35 L491.90 239.17 L494.95 236.99 L498.00 234.80" fill="none" stroke="#1a1a1a" stroke-width="0.85" stroke-dasharray="2.1 2"/>
<path d="M376.00 326.50 L379.05 324.32 L382.10 322.16 L385.15 319.99 L388.20 317.84 L391.25 315.70 L394.30 313.57 L397.35 311.45 L400.40 309.35 L403.45 307.26 L406.50 305.21 L409.55 303.17 L412.60 301.18 L415.65 299.22 L418.70 297.32 L421.75 295.47 L424.80 293.69 L427.85 291.98 L430.90 290.36 L433.95 288.83 L437.00 287.39 L440.05 286.04 L443.10 284.76 L446.15 283.55 L449.20 282.41 L452.25 281.31 L455.30 280.26 L458.35 279.25 L461.40 278.26 L464.45 277.30 L467.50 276.37 L470.55 275.44 L473.60 274.54 L476.65 273.64 L479.70 272.76 L482.75 271.88 L485.80 271.01 L488.85 270.15 L491.90 269.30 L494.95 268.45 L498.00 267.60" fill="none" stroke="#1a1a1a" stroke-width="0.85" stroke-dasharray="2.1 2"/>
<line x1="376.00" y1="311.90" x2="498.00" y2="251.20" stroke="#000" stroke-width="1.5"/>
<path d="M582.10 249.60 L584.42 251.35 L586.74 253.10 L589.05 254.83 L591.37 256.54 L593.69 258.25 L596.00 259.93 L598.32 261.60 L600.64 263.25 L602.96 264.87 L605.27 266.46 L607.59 268.01 L609.91 269.54 L612.23 271.02 L614.54 272.45 L616.86 273.84 L619.18 275.18 L621.50 276.46 L623.81 277.69 L626.13 278.86 L628.45 279.98 L630.77 281.05 L633.09 282.07 L635.40 283.05 L637.72 283.99 L640.04 284.89 L642.36 285.76 L644.67 286.61 L646.99 287.43 L649.31 288.23 L651.62 289.01 L653.94 289.78 L656.26 290.53 L658.58 291.27 L660.89 292.00 L663.21 292.72 L665.53 293.43 L667.85 294.13 L670.16 294.83 L672.48 295.52 L674.80 296.20" fill="none" stroke="#1a1a1a" stroke-width="0.85" stroke-dasharray="2.1 2"/>
<path d="M582.10 275.20 L584.42 275.92 L586.74 276.65 L589.05 277.40 L591.37 278.16 L593.69 278.93 L596.00 279.72 L598.32 280.52 L600.64 281.35 L602.96 282.21 L605.27 283.09 L607.59 284.01 L609.91 284.96 L612.23 285.96 L614.54 287.00 L616.86 288.08 L619.18 289.22 L621.50 290.41 L623.81 291.66 L626.13 292.97 L628.45 294.32 L630.77 295.73 L633.09 297.18 L635.40 298.68 L637.72 300.21 L640.04 301.79 L642.36 303.39 L644.67 305.02 L646.99 306.67 L649.31 308.34 L651.62 310.04 L653.94 311.75 L656.26 313.47 L658.58 315.21 L660.89 316.95 L663.21 318.71 L665.53 320.47 L667.85 322.25 L670.16 324.02 L672.48 325.81 L674.80 327.60" fill="none" stroke="#1a1a1a" stroke-width="0.85" stroke-dasharray="2.1 2"/>
<line x1="582.10" y1="262.40" x2="674.80" y2="311.90" stroke="#000" stroke-width="1.5"/>
</svg></body></html>
